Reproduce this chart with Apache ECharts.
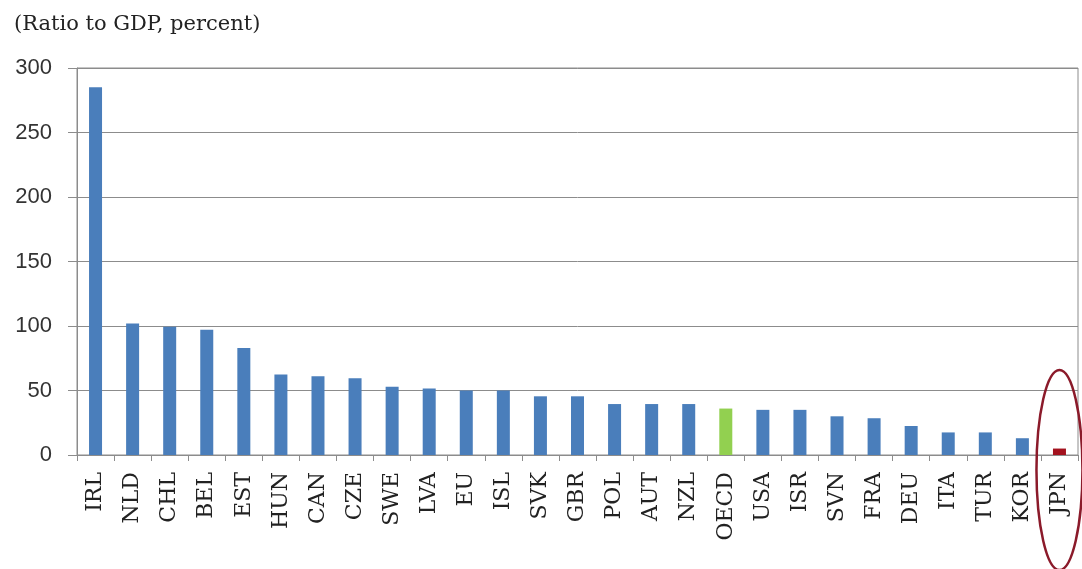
<!DOCTYPE html>
<html>
<head>
<meta charset="utf-8">
<script src="https://cdn.jsdelivr.net/npm/echarts@6/dist/echarts.min.js"></script>
<style>
  html, body { margin: 0; padding: 0; background: #fff; }
  #chart { width: 1082px; height: 569px; }
</style>
</head>
<body>
<div id="chart"></div>
<script>
// Country codes, ordered by ratio
const categories = ['IRL', 'NLD', 'CHL', 'BEL', 'EST', 'HUN', 'CAN', 'CZE', 'SWE', 'LVA', 'EU', 'ISL', 'SVK',
  'GBR', 'POL', 'AUT', 'NZL', 'OECD', 'USA', 'ISR', 'SVN', 'FRA', 'DEU', 'ITA', 'TUR', 'KOR', 'JPN'];
// Ratio to GDP, percent
const values = [285, 102, 99.5, 97, 83, 62.5, 61, 59.5, 53, 51.5, 50, 50, 45.5,
  45.5, 39.5, 39.5, 39.5, 36, 35, 35, 30, 28.5, 22.5, 17.5, 17.5, 13, 5];
const yTicks = [0, 50, 100, 150, 200, 250, 300];

const BLUE = '#4a7ebb';
const GREEN = '#92d050';
const RED = '#a3121e';
const highlight = { OECD: GREEN, JPN: RED };

const chart = echarts.init(document.getElementById('chart'), null, { renderer: 'canvas' });

const option = {
  backgroundColor: '#ffffff',
  animation: false,
  title: {
    text: '(Ratio to GDP, percent)',
    left: 9,
    top: 9,
    textStyle: { fontFamily: 'DejaVu Serif', fontSize: 21, fontWeight: 'normal', color: '#222' }
  },
  grid: {
    left: 77, right: 4, top: 68, bottom: 114,
    show: true, borderColor: '#8c8c8c', borderWidth: 1
  },
  xAxis: {
    type: 'category',
    data: categories,
    axisLine: { lineStyle: { color: '#8c8c8c', width: 1 } },
    axisTick: { show: true, length: 6, lineStyle: { color: '#8c8c8c' } },
    axisLabel: {
      rotate: 90, margin: 17, interval: 0,
      fontFamily: 'DejaVu Serif', fontSize: 22, color: '#222'
    }
  },
  yAxis: {
    type: 'value',
    min: yTicks[0], max: yTicks[yTicks.length - 1], interval: 50,
    axisLine: { show: true, lineStyle: { color: '#8c8c8c', width: 1 } },
    axisTick: { show: true, length: 9, lineStyle: { color: '#8c8c8c' } },
    axisLabel: { margin: 25, fontFamily: 'Liberation Sans', fontSize: 22, color: '#333' },
    splitLine: { show: true, lineStyle: { color: '#8c8c8c', width: 1 } }
  },
  series: [{
    type: 'bar',
    barWidth: 13,
    data: categories.map((c, i) => ({
      value: values[i],
      itemStyle: { color: highlight[c] || BLUE }
    }))
  }]
};

chart.setOption(option);

// Ring around the JPN bar, placed from the axis scale
const jpnIdx = categories.indexOf('JPN');
const jpnBase = chart.convertToPixel({ gridIndex: 0 }, [jpnIdx, 0]);
chart.setOption({
  graphic: [{
    type: 'ellipse',
    shape: { cx: jpnBase[0], cy: jpnBase[1] + 15, rx: 23, ry: 100 },
    style: { fill: 'none', stroke: '#8b1a2a', lineWidth: 2.5 },
    z: 100
  }]
});
</script>
</body>
</html>
